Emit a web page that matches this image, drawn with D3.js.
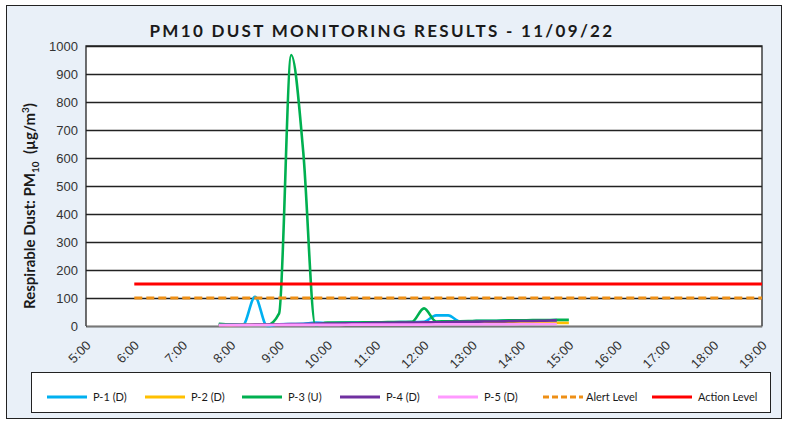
<!DOCTYPE html>
<html>
<head>
<meta charset="utf-8">
<script src="https://cdn.jsdelivr.net/npm/d3@7"></script>
<style>
  html, body { margin: 0; padding: 0; background: #fff; }
  svg { display: block; font-family: Lato, "Open Sans", sans-serif; }
</style>
</head>
<body>
<svg id="chart" width="788" height="425"></svg>
<script>
// data begin ----------------------------------
const times = ['7:45', '8:00', '8:15', '8:30', '8:45', '9:00', '9:15', '9:30', '9:45', '10:00',
  '10:15', '10:30', '10:45', '11:00', '11:15', '11:30', '11:45', '12:00', '12:15', '12:30',
  '12:45', '13:00', '13:15', '13:30', '13:45', '14:00', '14:15', '14:30', '14:45', '15:00'];

const p1 = [5, 6, 4, 104, 0, 6, 7, 8, 12, 10, 11, 12, 12, 13, 13, 14, 14, 15, 38, 38,
  16, 17, 18, 18, 19, 19, 20, 20, 21];
const p2 = [3, 3, 4, 4, 4, 5, 5, 5, 6, 6, 6, 7, 7, 7, 7, 8, 8, 8, 8, 9,
  9, 9, 9, 10, 10, 10, 10, 11, 11, 11];
const p3 = [8, 5, 4, 3, 3, 45, 968, 620, 3, 12, 12, 12, 13, 13, 14, 14, 15, 63, 16, 17,
  17, 18, 19, 19, 20, 20, 21, 21, 22, 22];
const p4 = [3, 4, 4, 5, 5, 6, 7, 7, 8, 9, 9, 10, 10, 11, 11, 12, 12, 13, 13, 14,
  15, 15, 16, 16, 17, 18, 18, 19, 20];
const p5 = [3, 3, 3, 3, 3, 4, 4, 4, 4, 4, 4, 5, 5, 5, 5, 5, 5, 5, 6, 6,
  6, 6, 6, 6, 6, 7, 7, 7, 7];

const levelTimes = ['6:00', '19:00'];
const alertLevel = 100;
const actionLevel = 150;

const xTicks = ['5:00', '6:00', '7:00', '8:00', '9:00', '10:00', '11:00', '12:00',
  '13:00', '14:00', '15:00', '16:00', '17:00', '18:00', '19:00'];
const yTicks = [0, 100, 200, 300, 400, 500, 600, 700, 800, 900, 1000];
// data end ----------------------------------

const parse = d3.timeParse('%H:%M');
const fmt = d3.timeFormat('%-H:%M');

const svg = d3.select('#chart');
const plot = { left: 86, right: 762, top: 46, bottom: 326 };

// chart background
svg.append('rect').attr('x', 6.5).attr('y', 5.5).attr('width', 775).attr('height', 413)
  .attr('fill', '#e9f0f8').attr('stroke', '#222').attr('stroke-width', 1);

const x = d3.scaleTime().domain([parse(xTicks[0]), parse(xTicks[xTicks.length - 1])])
  .range([plot.left, plot.right]);
const y = d3.scaleLinear().domain([0, 1000]).range([plot.bottom, plot.top]);

svg.append('rect').attr('x', plot.left).attr('y', plot.top)
  .attr('width', plot.right - plot.left).attr('height', plot.bottom - plot.top)
  .attr('fill', '#fff');

// gridlines
const yAxis = d3.axisLeft(y).tickValues(yTicks).tickFormat(d3.format('d'))
  .tickSize(-(plot.right - plot.left)).tickPadding(8);
const gy = svg.append('g').attr('class', 'y axis').attr('transform', 'translate(' + plot.left + ',0)').call(yAxis);
gy.select('.domain').remove();
gy.selectAll('.tick line').attr('stroke', '#222').attr('stroke-width', 1.4);
gy.selectAll('.tick text').attr('font-size', 13).attr('fill', '#333');

// plot border
svg.append('path')
  .attr('d', 'M' + plot.left + ',' + plot.bottom + 'V' + plot.top + 'H' + plot.right + 'V' + plot.bottom)
  .attr('fill', 'none').attr('stroke', '#222').attr('stroke-width', 1.3);

const xAxis = d3.axisBottom(x).tickValues(xTicks.map(parse)).tickFormat(fmt).tickSize(0);
const gx = svg.append('g').attr('class', 'x axis').attr('transform', 'translate(0,' + plot.bottom + ')').call(xAxis);
gx.select('.domain').attr('stroke', '#777').attr('stroke-width', 1.5);
gx.selectAll('.tick text')
  .attr('font-size', 13).attr('fill', '#333')
  .style('text-anchor', 'end')
  .attr('dx', 0).attr('dy', 0)
  .attr('transform', 'translate(3,18) rotate(-45)');

// series
const series = [
  { name: 'P-1 (D)', values: p1, color: '#00b0f0' },
  { name: 'P-2 (D)', values: p2, color: '#ffc000' },
  { name: 'P-3 (U)', values: p3, color: '#00b050' },
  { name: 'P-4 (D)', values: p4, color: '#7030a0' },
  { name: 'P-5 (D)', values: p5, color: '#ff99ff' }
];

const line = d3.line()
  .x(function(d) { return x(d.t); })
  .y(function(d) { return y(d.v); })
  .curve(d3.curveMonotoneX);

const gSeries = svg.append('g').attr('class', 'series');
series.forEach(function(s) {
  const pts = s.values.map(function(v, i) { return { t: parse(times[i]), v: v }; });
  gSeries.append('path').datum(pts).attr('d', line)
    .attr('fill', 'none').attr('stroke', s.color).attr('stroke-width', 2.6)
    .attr('stroke-linejoin', 'round');
});

const flat = d3.line().x(function(d) { return x(d.t); }).y(function(d) { return y(d.v); });
const alertPts = levelTimes.map(function(t) { return { t: parse(t), v: alertLevel }; });
const actionPts = levelTimes.map(function(t) { return { t: parse(t), v: actionLevel }; });
svg.append('path').datum(alertPts).attr('d', flat)
  .attr('stroke', '#ee8f16').attr('stroke-width', 3).attr('stroke-dasharray', '8,4').attr('fill', 'none');
svg.append('path').datum(actionPts).attr('d', flat)
  .attr('stroke', '#ff0000').attr('stroke-width', 3).attr('fill', 'none');

// title
svg.append('text').attr('x', 382).attr('y', 37).attr('text-anchor', 'middle')
  .attr('font-size', 17).attr('font-weight', 'bold').attr('fill', '#1a1a1a')
  .style('letter-spacing', '2.3px')
  .text('PM10 DUST MONITORING RESULTS - 11/09/22');

// y axis title
const yt = svg.append('text')
  .attr('transform', 'translate(35,' + 206 + ') rotate(-90)')
  .attr('text-anchor', 'middle').attr('font-size', 15).attr('font-weight', 'bold').attr('fill', '#1a1a1a');
yt.append('tspan').text('Respirable Dust: PM');
yt.append('tspan').attr('font-size', 10).attr('dy', 4).text('10');
yt.append('tspan').attr('dy', -4).text('\u00a0 (\u00b5g/m');
yt.append('tspan').attr('font-size', 10).attr('dy', -6).text('3');
yt.append('tspan').attr('dy', 6).text(')');

// legend
const lg = svg.append('g').attr('class', 'legend');
lg.append('rect').attr('x', 31.5).attr('y', 372.5).attr('width', 739).attr('height', 40)
  .attr('fill', '#fff').attr('stroke', '#222');
const legendItems = series.map(function(s) { return { name: s.name, color: s.color, dash: null }; })
  .concat([{ name: 'Alert Level', color: '#ee8f16', dash: '6,3' }, { name: 'Action Level', color: '#ff0000', dash: null }]);
const legendX = [47, 145, 242, 340, 438, 543, 652];
legendItems.forEach(function(it, i) {
  const g = lg.append('g').attr('transform', 'translate(' + legendX[i] + ',397)');
  g.append('line').attr('x1', 0).attr('x2', 40).attr('stroke', it.color).attr('stroke-width', 3)
    .attr('stroke-dasharray', it.dash);
  g.append('text').attr('x', i === 5 ? 43 : 46).attr('y', 4).attr('font-size', 11).attr('fill', '#1a1a1a')
    .text(it.name);
});
</script>
</body>
</html>
